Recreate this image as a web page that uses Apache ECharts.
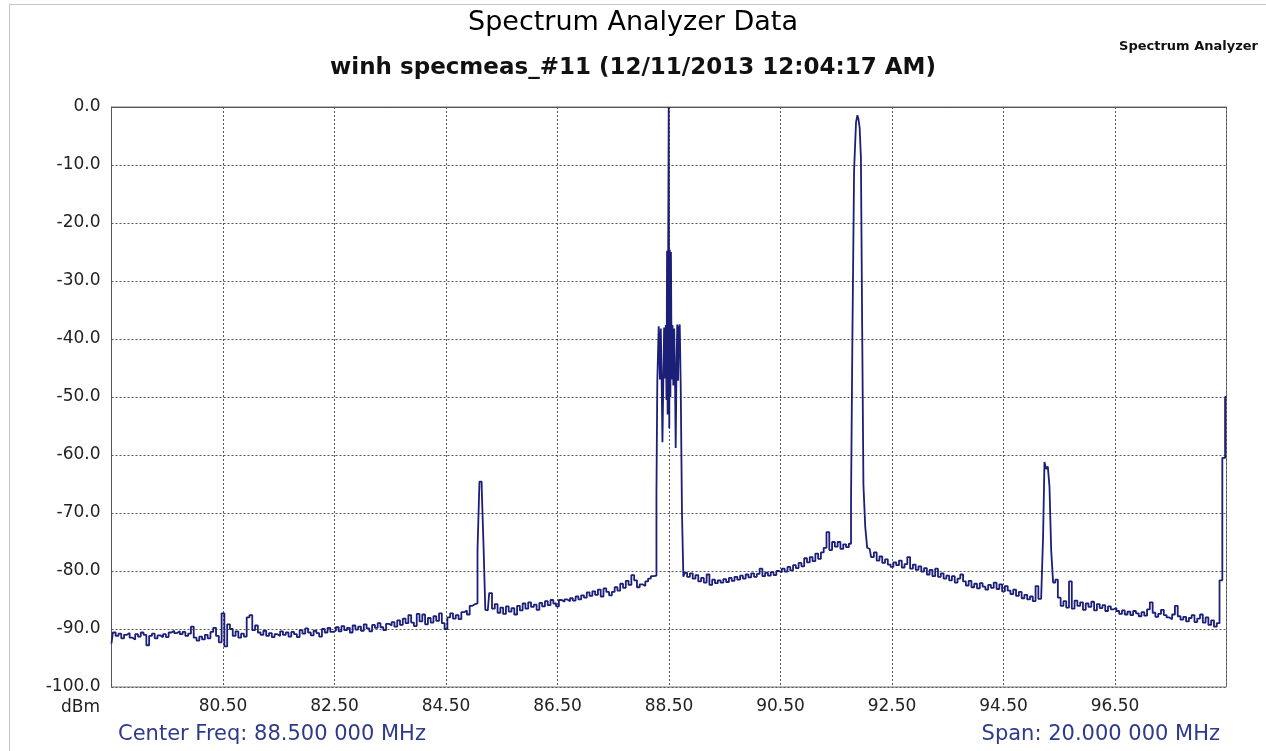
<!DOCTYPE html>
<html lang="en">
<head>
  <meta charset="UTF-8">
  <title>Spectrum Analyzer Data</title>
  <script src="https://cdn.jsdelivr.net/npm/echarts@6.0.0/dist/echarts.min.js"></script>
  <style>
    html, body { margin: 0; padding: 0; background: #fff; }
    #chart { position: absolute; left: 0; top: 0; width: 1266px; height: 751px; }
    #frame {
      position: absolute; left: 9px; top: 4px; right: 0; bottom: 0;
      border-left: 1px solid #c4c4c4; border-top: 1px solid #c4c4c4;
      pointer-events: none;
    }
  </style>
</head>
<body>
  <div id="chart"></div>
  <div id="frame"></div>
  <script>
    // sweep: 78.5 .. 98.5 MHz, 0.05 MHz per sample (null = covered by a peak list below)
    const F_START = 78.5;
    const F_STEP = 0.05;
    const floorDbm = [
      // 78.50 - 79.45
      -92.5, -90.6, -91.2, -90.8, -91.6, -91.0, -90.7, -91.5, -91.8, -90.9, -91.3, -90.6, -91.0, -92.8, -91.2, -90.8, -91.6, -91.1, -91.4, -90.9,
      // 79.50 - 80.45
      -91.4, -90.6, -90.3, -90.7, -90.4, -90.9, -90.5, -91.2, -90.8, -89.6, -91.5, -92.0, -91.3, -91.8, -91.0, -91.6, -90.5, -89.8, -91.2, -92.3,
      // 80.50 - 81.45
      -87.3, -93.0, -89.2, -90.0, -91.2, -90.4, -91.5, -90.8, -91.3, -88.0, -87.6, -90.2, -89.4, -90.6, -91.0, -90.3, -91.2, -90.7, -91.4, -90.9,
      // 81.50 - 82.45
      -91.2, -90.4, -91.0, -90.6, -91.3, -90.5, -90.9, -91.4, -90.2, -90.8, -89.9, -90.6, -91.1, -90.3, -90.7, -91.3, -90.0, -90.6, -89.8, -90.5,
      // 82.50 - 83.45
      -90.3, -89.7, -90.4, -89.5, -90.2, -89.8, -90.6, -89.4, -90.1, -89.6, -90.3, -89.2, -89.9, -90.4, -89.3, -89.8, -89.0, -89.7, -90.2, -89.1,
      // 83.50 - 84.45
      -89.4, -88.8, -89.6, -88.5, -89.3, -88.2, -89.0, -87.6, -88.9, -89.5, -87.4, -88.7, -87.5, -89.2, -88.1, -88.9, -87.8, -88.6, -87.3, -89.0,
      // 84.50 - 85.45
      -90.0, -88.0, -87.3, -88.2, -87.6, -88.3, -87.1, -86.8, -87.5, -86.0, -85.7, -85.6, null, null, null, -86.8, -83.8, -86.5, -85.7, -87.2,
      // 85.50 - 86.45
      -86.3, -87.4, -86.1, -87.0, -86.4, -87.5, -86.0, -86.8, -85.6, -86.5, -85.4, -86.2, -85.8, -86.7, -85.5, -86.1, -85.2, -85.9, -85.0, -85.6,
      // 86.50 - 87.45
      -86.1, -85.0, -85.3, -84.9, -85.2, -84.7, -85.1, -84.4, -84.9, -84.2, -84.6, -83.7, -84.3, -83.5, -84.1, -83.2, -84.4, -83.0, -83.6, -84.2,
      // 87.50 - 88.45
      -83.6, -82.8, -83.4, -82.2, -82.9, -81.7, -82.4, -80.7, -81.6, -82.8, -82.3, -82.6, -81.8, -81.3, -80.9, -80.6, null, null, null, null,
      // 88.50 - 89.45
      null, null, null, null, null, null, -80.3, -81.0, -80.4, -81.3, -80.7, -81.8, -81.2, -82.0, -80.6, -82.4, -81.5, -82.1, -81.6, -82.0,
      // 89.50 - 90.45
      -81.4, -81.9, -81.2, -81.7, -81.0, -81.5, -80.8, -81.3, -80.6, -81.1, -80.4, -81.0, -80.5, -79.6, -80.9, -80.3, -80.8, -80.2, -80.7, -80.0,
      // 90.50 - 91.45
      -80.2, -79.6, -80.1, -79.3, -79.9, -79.0, -79.5, -78.6, -79.2, -77.8, -78.5, -77.6, -78.3, -77.0, -77.9, -76.8, -76.0, -73.3, -76.4, -75.0,
      // 91.50 - 92.45
      null, null, null, null, null, null, null, null, null, null, null, null, -76.2, -77.6, -76.8, -78.2, -77.5, -78.6, -78.0, -78.9,
      // 92.50 - 93.45
      -79.3, -78.5, -79.0, -78.2, -79.4, -78.8, -77.6, -79.6, -78.9, -79.8, -79.2, -80.1, -79.5, -80.6, -79.8, -80.9, -79.6, -81.0, -80.4, -81.3,
      // 93.50 - 94.45
      -80.8, -81.6, -80.9, -82.0, -81.3, -80.6, -81.8, -82.5, -81.7, -82.8, -82.2, -83.0, -82.1, -82.7, -83.2, -82.4, -82.9, -82.0, -83.1, -82.3,
      // 94.50 - 95.45
      -83.5, -82.6, -83.4, -84.0, -83.2, -84.3, -83.6, -84.7, -84.1, -84.9, -84.4, -85.2, -82.6, -84.8, null, null, null, null, null, -81.5,
      // 95.50 - 96.45
      -84.6, -86.0, -85.2, -86.3, -81.8, -86.5, -85.1, -86.0, -85.4, -86.7, -85.6, -86.2, -85.3, -86.8, -85.7, -86.4, -85.9, -86.9, -86.1, -86.6,
      // 96.50 - 97.45
      -86.4, -86.9, -87.4, -86.8, -87.5, -87.0, -87.6, -86.9, -87.3, -87.8, -87.1, -87.7, -86.6, -85.4, -87.2, -87.9, -87.4, -86.7, -87.6, -88.0,
      // 97.50 - 98.50
      -88.3, -87.5, -86.0, -87.8, -88.4, -87.9, -88.7, -88.1, -87.6, -88.8, -88.2, -87.5, -88.9, -88.0, -89.3, -88.5, -89.6, -89.0, -81.6, -60.5, -50.0
    ];

    // [MHz, dBm] around the carriers
    const peak85 = [
      [85.08, -76.4], [85.12, -64.6], [85.16, -65.5], [85.19, -76.2], [85.22, -86.7]
    ];
    const peak88 = [
      [88.27, -80.8], [88.28, -66.4], [88.30, -47.4], [88.33, -37.8], [88.345, -47.0],
      [88.36, -38.2], [88.375, -46.5], [88.39, -57.8], [88.405, -47.5], [88.42, -38.0],
      [88.435, -46.8], [88.45, -37.6], [88.46, -50.5], [88.47, -24.8], [88.48, -53.0],
      [88.49, -25.5], [88.50, 0.0], [88.51, -55.4], [88.52, -24.6], [88.53, -50.0],
      [88.54, -25.0], [88.555, -47.0], [88.57, -37.6], [88.585, -48.0], [88.60, -38.2],
      [88.615, -46.0], [88.625, -58.8], [88.64, -47.0], [88.655, -37.5], [88.67, -47.2],
      [88.685, -38.0], [88.70, -37.5], [88.72, -48.0], [88.745, -69.8], [88.77, -81.0]
    ];
    const peak92 = [
      [91.50, -75.8], [91.55, -75.0], [91.60, -76.2], [91.65, -75.4], [91.70, -75.9],
      [91.75, -75.3], [91.78, -68.1], [91.80, -39.3], [91.84, -10.9], [91.87, -2.6],
      [91.89, -1.4], [91.91, -2.2], [91.93, -3.6], [91.955, -8.8], [91.975, -38.1],
      [92.00, -65.2], [92.04, -72.4], [92.07, -76.0]
    ];
    const peak95 = [
      [95.20, -84.8], [95.22, -74.1], [95.25, -61.2], [95.28, -62.4], [95.31, -62.0],
      [95.34, -65.5], [95.37, -76.4], [95.41, -82.0]
    ];

    const X_MIN = 78.5, X_MAX = 98.5, X_STEP = 2;
    const Y_MIN = -100, Y_MAX = 0, Y_STEP = 10;

    const trace = [];
    floorDbm.forEach((v, i) => {
      if (v !== null) trace.push([+(F_START + i * F_STEP).toFixed(3), v]);
    });
    [peak85, peak88, peak92, peak95].forEach(p => p.forEach(pt => trace.push(pt)));
    trace.sort((a, b) => a[0] - b[0]);

    const chart = echarts.init(document.getElementById('chart'), null, { renderer: 'canvas' });
    const FONT = 'DejaVu Sans';

    chart.setOption({
      animation: false,
      backgroundColor: '#fff',
      title: [
        { text: 'Spectrum Analyzer Data', left: 'center', top: 9, padding: 0,
          textStyle: { fontFamily: FONT, fontSize: 27, fontWeight: 'normal', color: '#000' } },
        { text: 'winh specmeas_#11 (12/11/2013 12:04:17 AM)', left: 'center', top: 57, padding: 0,
          textStyle: { fontFamily: FONT, fontSize: 23, fontWeight: 'bold', color: '#111' } },
        { text: 'Spectrum Analyzer', right: 8, top: 40, padding: 0,
          textStyle: { fontFamily: FONT, fontSize: 13, fontWeight: 'bold', color: '#111' } },
        { text: 'dBm', right: 1166, top: 699, padding: 0,
          textStyle: { fontFamily: FONT, fontSize: 17, fontWeight: 'normal', color: '#222' } },
        { text: 'Center Freq: 88.500 000 MHz', left: 118, top: 724, padding: 0,
          textStyle: { fontFamily: FONT, fontSize: 21, fontWeight: 'normal', color: '#2e3a8a' } },
        { text: 'Span: 20.000 000 MHz', right: 46, top: 724, padding: 0,
          textStyle: { fontFamily: FONT, fontSize: 21, fontWeight: 'normal', color: '#2e3a8a' } }
      ],
      grid: {
        left: 111.5, right: 39.5, top: 107, bottom: 64,
        show: true, borderColor: '#7a7a7a', borderWidth: 1,
        outerBoundsMode: 'none'
      },
      xAxis: {
        type: 'value', min: X_MIN, max: X_MAX, interval: X_STEP,
        axisLine: { show: true, lineStyle: { color: '#555' } },
        axisTick: { show: false },
        axisLabel: {
          showMinLabel: false, showMaxLabel: false, margin: 11,
          fontFamily: FONT, fontSize: 17, color: '#222',
          formatter: v => v.toFixed(2)
        },
        splitLine: { show: true, lineStyle: { color: '#555', width: 1, type: [2, 2] } }
      },
      yAxis: {
        type: 'value', min: Y_MIN, max: Y_MAX, interval: Y_STEP,
        axisLine: { show: true, lineStyle: { color: '#555' } },
        axisTick: { show: false },
        axisLabel: {
          margin: 11, fontFamily: FONT, fontSize: 17, color: '#222',
          formatter: v => v.toFixed(1)
        },
        splitLine: { show: true, lineStyle: { color: '#555', width: 1, type: [2, 2] } }
      },
      series: [{
        type: 'line',
        data: trace,
        step: 'middle',
        showSymbol: false,
        clip: true,
        lineStyle: { color: '#1c1f78', width: 1.8 }
      }]
    });
  </script>
</body>
</html>
